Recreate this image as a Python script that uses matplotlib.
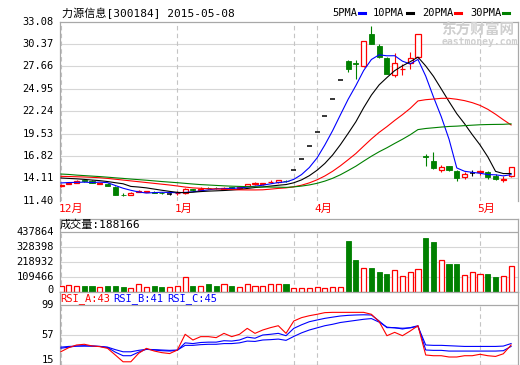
import matplotlib
matplotlib.use('Agg')

import matplotlib.pyplot as plt
from matplotlib.patches import Rectangle
from matplotlib.lines import Line2D
import numpy as np
import pandas as pd

plt.rcParams['font.family'] = ['DejaVu Sans Mono', 'Noto Sans CJK SC']

W, H = 520, 365
RED = '#ff0000'
GREEN = '#008000'
BLUE = '#0000ff'
GRID = '#d6d6d6'
EDGE = '#a8a8a8'

# daily bars, 2014-12 .. 2015-05-08
opens = [13.2, 13.45, 13.6, 13.85, 13.8, 13.45, 13.45, 13.1, 12.15, 12.15,
         12.45, 12.45, 12.5, 12.35, 12.25, 12.3, 12.3, 12.8, 12.7, 12.95,
         12.95, 12.85, 13.0, 12.9, 13.2, 13.45, 13.4, 13.65, 13.65, 13.8,
         15.07, 16.45, 17.97, 19.67, 21.6, 23.71, 26.01, 28.3, 28.05, 27.75,
         31.6, 30.1, 28.7, 26.6, 27.35, 28.05, 28.75, 16.8, 16.2, 15.15,
         15.55, 14.95, 14.27, 14.75, 14.9, 14.9, 14.4, 13.95, 14.35]
highs = [13.4, 13.65, 13.85, 13.95, 13.85, 13.6, 13.5, 13.15, 12.3, 12.4,
         12.65, 12.6, 12.55, 12.45, 12.35, 12.6, 12.9, 12.85, 13.0, 13.05,
         13.1, 13.05, 13.05, 13.1, 13.45, 13.7, 13.6, 13.85, 13.9, 13.95,
         15.07, 16.45, 17.97, 19.67, 21.6, 23.71, 26.01, 28.5, 28.4, 30.75,
         32.55, 30.4, 28.8, 29.3, 28.0, 29.35, 31.6, 17.0, 17.25, 15.7,
         15.6, 15.1, 14.9, 15.1, 15.1, 14.95, 14.6, 14.35, 15.45]
lows = [13.1, 13.4, 13.55, 13.7, 13.55, 13.4, 13.15, 12.05, 12.0, 12.1,
        12.4, 12.4, 12.3, 12.2, 12.15, 12.1, 12.25, 12.6, 12.65, 12.8,
        12.8, 12.8, 12.85, 12.85, 13.15, 13.35, 13.3, 13.55, 13.6, 13.7,
        15.07, 16.45, 17.97, 19.67, 21.6, 23.71, 26.01, 27.0, 26.2, 27.6,
        30.35, 28.7, 26.7, 26.4, 26.6, 27.3, 28.7, 15.55, 15.25, 14.9,
        15.05, 13.75, 14.0, 14.4, 14.55, 14.05, 13.85, 13.7, 14.3]
closes = [13.3, 13.55, 13.8, 13.75, 13.6, 13.55, 13.2, 12.1, 12.1, 12.35,
          12.55, 12.55, 12.35, 12.3, 12.25, 12.35, 12.8, 12.7, 12.85, 12.9,
          12.9, 12.95, 12.9, 13.05, 13.4, 13.5, 13.55, 13.7, 13.85, 13.75,
          15.07, 16.45, 17.97, 19.67, 21.6, 23.71, 26.01, 27.4, 28.0, 30.7,
          30.4, 28.85, 26.8, 28.05, 27.4, 28.7, 31.6, 16.7, 15.4, 15.5,
          15.1, 14.15, 14.67, 14.75, 14.95, 14.3, 14.0, 14.05, 15.45]
volumes = [40000, 47000, 40000, 40000, 40000, 33000, 40000, 40000, 33000, 30000,
           55000, 33000, 40000, 33000, 33000, 40000, 104000, 40000, 40000, 55000,
           40000, 55000, 40000, 33000, 55000, 45000, 45000, 55000, 55000, 55000,
           25000, 25000, 25000, 35000, 25000, 33000, 33000, 371000, 230000, 176000,
           176000, 142000, 128000, 162000, 111000, 142000, 169000, 390000, 361000, 230000,
           201000, 201000, 120000, 147000, 128000, 128000, 106000, 111000, 188166]

# moving averages before the window is full
ma5_head = [13.55, 13.6, 13.62, 13.65]
ma10_head = [14.15, 14.1, 14.05, 13.98, 13.9, 13.83, 13.72, 13.58, 13.45]
ma20_head = [14.35, 14.33, 14.3, 14.27, 14.23, 14.18, 14.1, 14.0, 13.9, 13.8,
             13.7, 13.6, 13.5, 13.4, 13.3, 13.18, 13.05, 12.95, 12.9]
ma30_head = [14.63, 14.58, 14.5, 14.44, 14.38, 14.32, 14.25, 14.17, 14.1, 14.02,
             13.95, 13.88, 13.8, 13.72, 13.65, 13.58, 13.5, 13.42, 13.35, 13.3,
             13.25, 13.2, 13.16, 13.13, 13.1, 13.08, 13.06, 13.05, 13.04]

rsi_a = [33.7, 39.3, 43, 44, 41.7, 40.7, 38.3, 29, 19.5, 19.5,
         31.3, 38.3, 34.6, 32.3, 31, 36, 58, 50, 54.7, 54.7,
         53.3, 59.3, 54.7, 58, 66.3, 59.3, 64, 67.3, 70, 59.3,
         76.6, 81.3, 84, 86, 88.3, 88.7, 88.7, 88.7, 88.7, 88.7,
         86, 75.7, 56, 60.7, 56, 62.6, 70, 29, 28, 28,
         26.2, 26.2, 28, 28, 30, 28, 27, 30.7, 43]
rsi_b = [38.5, 40, 41.5, 42, 41.5, 41, 39.5, 33, 28, 28,
         33, 37, 36, 35, 34.5, 35.5, 46, 45, 46.5, 47,
         47, 49, 48.5, 50, 54, 52.5, 57, 58, 59.3, 56,
         66.3, 71.3, 75.6, 78, 80.3, 82, 83.6, 84.5, 85, 85.3,
         85, 76.6, 67.3, 67.3, 65.4, 67.3, 70, 36, 35.5, 35.5,
         34.5, 34.5, 34.5, 34.5, 34.5, 34.5, 34.5, 35, 41]
rsi_c = [40, 41, 41.5, 41.5, 41.5, 41, 40, 36.5, 33.5, 33.5,
         35.5, 37, 36.5, 36, 35.5, 36, 42.5, 42.5, 43.5, 44,
         44, 45, 45, 46, 48.5, 48, 50, 50.5, 51.3, 49.5,
         55, 60, 64, 67, 70, 72, 74.5, 76, 77.5, 79,
         80, 75, 68, 67, 66.5, 67, 69, 43, 42.5, 42.5,
         42, 41.5, 41, 41, 41, 41, 41, 41.5, 45]

month_bars = [0, 15, 30, 33, 54]
month_labels = ['12月', '1月', '', '4月', '5月']
price_ticks = [11.40, 14.11, 16.82, 19.53, 22.24, 24.95, 27.66, 30.37, 33.08]
vol_ticks = [0, 109466, 218932, 328398, 437864]
rsi_ticks = [15, 57, 99]

n = len(closes)
idx = np.arange(n)
close_s = pd.Series(closes)


def moving_avg(period, head):
    ma = close_s.rolling(period).mean().to_numpy()
    ma[:period - 1] = head
    return ma


ma5 = moving_avg(5, ma5_head)
ma10 = moving_avg(10, ma10_head)
ma20 = moving_avg(20, ma20_head)
ma30 = moving_avg(30, ma30_head)


def add_ax(y_top, y_bot, x_left=59.5, x_right=518.0):
    return fig.add_axes([x_left / W, 1 - y_bot / H,
                         (x_right - x_left) / W, (y_bot - y_top) / H])


def ftext(x, y, s, **kw):
    kw.setdefault('va', 'center')
    kw.setdefault('fontsize', 7.5)
    fig.text(x / W, 1 - y / H, s, **kw)


fig = plt.figure(figsize=(W / 100, H / 100), dpi=100)
fig.patch.set_facecolor('white')

XLIM = ((59.5 - 61) / 7.76, (518 - 61) / 7.76)

# ---------------- price panel ----------------
ax = add_ax(21.7, 200.7)
ax.set_xlim(*XLIM)
ax.set_ylim(price_ticks[0], price_ticks[-1])
for t in price_ticks[1:-1]:
    ax.axhline(t, color=GRID, lw=0.8, zorder=0)
for b in month_bars:
    ax.axvline(b, color='#c4c4c4', lw=0.8, ls=(0, (4, 3)), zorder=0)

bw = 0.66
for i in idx:
    o, h, l, c = opens[i], highs[i], lows[i], closes[i]
    if c > o:
        col = RED
        ax.vlines(i, l, h, color=col, lw=0.8, zorder=2)
        ax.add_patch(Rectangle((i - bw / 2, o), bw, c - o, facecolor='white',
                               edgecolor=col, lw=0.9, zorder=3))
    elif c < o:
        col = GREEN
        ax.vlines(i, l, h, color=col, lw=0.8, zorder=2)
        ax.add_patch(Rectangle((i - bw / 2, c), bw, o - c, facecolor=col,
                               edgecolor=col, lw=0.6, zorder=3))
    else:
        ax.vlines(i, l, h, color='black', lw=0.8, zorder=2)
        ax.hlines(c, i - bw / 2, i + bw / 2, color='black', lw=1.1, zorder=3)

ax.plot(idx, ma5, color=BLUE, lw=0.8, zorder=4)
ax.plot(idx, ma10, color='black', lw=0.8, zorder=4)
ax.plot(idx, ma20, color=RED, lw=0.8, zorder=4)
ax.plot(idx, ma30, color=GREEN, lw=0.8, zorder=4)

for t in price_ticks:
    ax.text(-0.012, t, f'{t:.2f}', transform=ax.get_yaxis_transform(),
            ha='right', va='center', fontsize=7.5)
for b, lab in zip(month_bars, month_labels):
    if lab:
        ax.text(b - 0.35, price_ticks[0] - 0.95, lab, color=RED, fontsize=8,
                ha='left', va='center', clip_on=False)

ax.set_xticks([])
ax.set_yticks([])
for s in ['bottom']:
    ax.spines[s].set_visible(False)
for s in ['top', 'left', 'right']:
    ax.spines[s].set_color(EDGE)
    ax.spines[s].set_linewidth(0.9)

# ---------------- volume panel ----------------
axv = add_ax(219.0, 291.7)
axv.set_xlim(*XLIM)
vtop = vol_ticks[-1] * 72.7 / 60.0
axv.set_ylim(0, vtop)
for t in vol_ticks[1:-1]:
    axv.axhline(t, color=GRID, lw=0.8, zorder=0)
axv.axhline(vol_ticks[-1], color=EDGE, lw=0.9, zorder=0)
for b in month_bars:
    axv.vlines(b, 0, vol_ticks[-1], color='#c4c4c4', lw=0.8,
               linestyles=(0, (4, 3)), zorder=0)
for i in idx:
    up = closes[i] >= opens[i]
    if up:
        axv.add_patch(Rectangle((i - bw / 2, 0), bw, volumes[i], facecolor='white',
                                edgecolor=RED, lw=0.9, zorder=3))
    else:
        axv.add_patch(Rectangle((i - bw / 2, 0), bw, volumes[i], facecolor=GREEN,
                                edgecolor=GREEN, lw=0.6, zorder=3))
for t in vol_ticks:
    axv.text(-0.012, t + (14000 if t == 0 else 0), f'{t}',
             transform=axv.get_yaxis_transform(), ha='right', va='center',
             fontsize=7.5)
axv.set_xticks([])
axv.set_yticks([])
for s in axv.spines.values():
    s.set_color(EDGE)
    s.set_linewidth(0.9)

# ---------------- RSI panel ----------------
axr = add_ax(292.0, 365.0)
axr.set_xlim(*XLIM)
axr.set_ylim(15, 15 + 84 * 73 / 60)
axr.axhline(57, color=GRID, lw=0.8, zorder=0)
axr.axhline(99, color=EDGE, lw=0.9, zorder=0)
for b in month_bars:
    axr.vlines(b, 15, 99, color='#c4c4c4', lw=0.8,
               linestyles=(0, (4, 3)), zorder=0)
axr.plot(idx, rsi_c, color=BLUE, lw=0.8, zorder=3)
axr.plot(idx, rsi_b, color=BLUE, lw=0.8, zorder=3)
axr.plot(idx, rsi_a, color=RED, lw=0.8, zorder=4)
for t in rsi_ticks:
    axr.text(-0.012, t + (7 if t == 15 else 0), f'{t}',
             transform=axr.get_yaxis_transform(), ha='right', va='center',
             fontsize=7.5)
axr.set_xticks([])
axr.set_yticks([])
for s in axr.spines.values():
    s.set_color(EDGE)
    s.set_linewidth(0.9)

# ---------------- headers ----------------
ftext(62, 13, '力源信息[300184] 2015-05-08', fontsize=8)
legend = [('5PMA', 332, 359, BLUE), ('10PMA', 373, 407, 'black'),
          ('20PMA', 422, 455, RED), ('30PMA', 470, 503, GREEN)]
for lab, tx, lx, col in legend:
    ftext(tx, 13, lab)
    fig.add_artist(Line2D([lx / W, (lx + 6) / W], [1 - 13 / H, 1 - 13 / H],
                          color=col, lw=2.2, transform=fig.transFigure))

ftext(441, 30, '东方财富网', color='#cfcfcf', fontsize=10.5, fontweight='bold')
ftext(442, 42, 'eastmoney.com', color='#cfcfcf', fontsize=7, fontweight='bold')

ftext(60, 225, '成交量:188166', fontsize=8)
ftext(60, 299, 'RSI_A:43', color=RED)
ftext(113, 299, 'RSI_B:41', color=BLUE)
ftext(167, 299, 'RSI_C:45', color=BLUE)

fig.savefig('out.png', dpi=100, facecolor='white')
